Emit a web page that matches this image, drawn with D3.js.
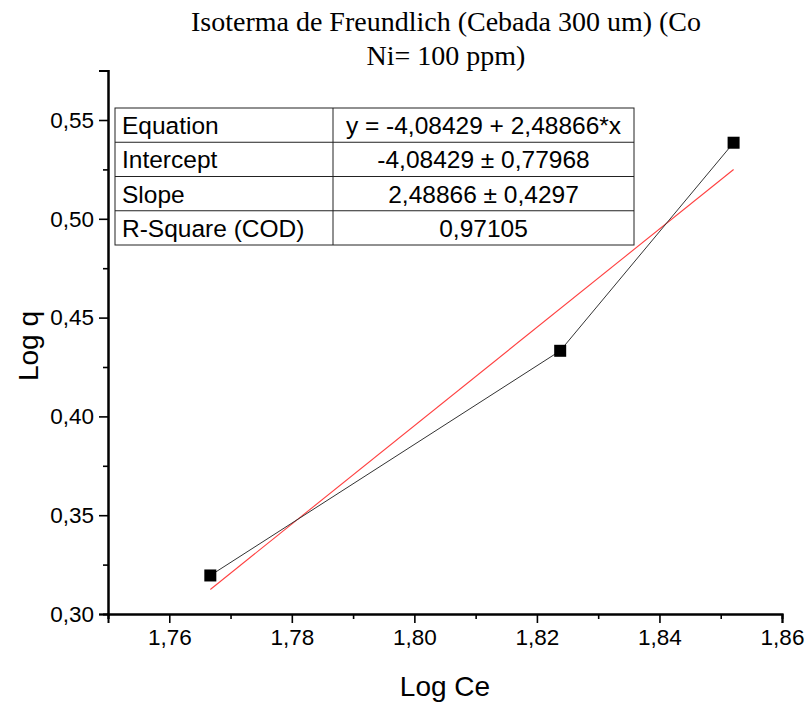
<!DOCTYPE html>
<html><head><meta charset="utf-8">
<script src="https://cdn.jsdelivr.net/npm/d3@7"></script>
<style>body{margin:0;background:#fff}svg{display:block}</style>
</head><body>
<svg id="c" width="808" height="703"></svg>
<script>
const logCe = [1.7667, 1.8238, 1.8521];
const logQ = [0.3195, 0.4332, 0.5385];
const fitIntercept = -4.08429, fitSlope = 2.48866;
const xTicks = [1.76, 1.78, 1.80, 1.82, 1.84, 1.86];
const yTicks = [0.30, 0.35, 0.40, 0.45, 0.50, 0.55];
const tableRows = [
  ["Equation", "y = -4,08429 + 2,48866*x"],
  ["Intercept", "-4,08429 \u00b1 0,77968"],
  ["Slope", "2,48866 \u00b1 0,4297"],
  ["R-Square (COD)", "0,97105"]
];
const titleLines = ["Isoterma de Freundlich (Cebada 300 um) (Co", "Ni= 100 ppm)"];

const svg = d3.select("#c");
const x = d3.scaleLinear().domain([1.75, 1.86]).range([108, 782]);
const y = d3.scaleLinear().domain([0.30, 0.575]).range([614, 70.6]);
const fmt = v => d3.format(".2f")(v).replace(".", ",");

// title
svg.selectAll("text.title").data(titleLines).join("text")
  .attr("x", 446).attr("y", (d,i)=>31 + i*34)
  .attr("text-anchor","middle")
  .style("font-family","'Liberation Serif','Times New Roman',serif")
  .style("font-size","28px").text(d=>d);

// axes
const xAxis = d3.axisBottom(x).tickValues(xTicks).tickFormat(fmt).tickSize(9).tickPadding(6);
const xMinor = d3.axisBottom(x).tickValues(d3.range(1.75, 1.8601, 0.01).filter(v=>!xTicks.some(t=>Math.abs(t-v)<1e-6))).tickSize(5).tickFormat("");
const yAxis = d3.axisLeft(y).tickValues(yTicks).tickFormat(fmt).tickSize(9).tickPadding(5);
const yMinor = d3.axisLeft(y).tickValues([0.325,0.375,0.425,0.475,0.525,0.575]).tickSize(5).tickFormat("");

function style(g){
  g.select(".domain").attr("stroke","#000").attr("stroke-width",2);
  g.selectAll(".tick line").attr("stroke","#000").attr("stroke-width",1.6);
  g.selectAll(".tick text").style("font-family","'Liberation Sans',Arial,sans-serif").style("font-size","22.5px").attr("fill","#000");
}
svg.append("g").attr("transform","translate(0,614)").call(xMinor).call(style);
svg.append("g").attr("transform","translate(0,614)").call(xAxis).call(style);
svg.append("g").attr("transform","translate(108,0)").call(yMinor).call(style);
svg.append("g").attr("transform","translate(108,0)").call(yAxis).call(style);

// axis labels
svg.append("text").attr("x",445).attr("y",696).attr("text-anchor","middle")
  .style("font-family","'Liberation Sans',Arial,sans-serif").style("font-size","28px").text("Log Ce");
svg.append("text").attr("transform","translate(38,346) rotate(-90)").attr("text-anchor","middle")
  .style("font-family","'Liberation Sans',Arial,sans-serif").style("font-size","28px").text("Log q");

// fit line
const fitX = [d3.min(logCe), d3.max(logCe)];
svg.append("line")
  .attr("x1", x(fitX[0])).attr("y1", y(fitIntercept + fitSlope*fitX[0]))
  .attr("x2", x(fitX[1])).attr("y2", y(fitIntercept + fitSlope*fitX[1]))
  .attr("stroke","#ff4040").attr("stroke-width",1.1);

// data line
const pts = logCe.map((v,i)=>[v, logQ[i]]);
svg.append("path").attr("d", d3.line().x(d=>x(d[0])).y(d=>y(d[1]))(pts))
  .attr("fill","none").attr("stroke","#333").attr("stroke-width",1);
svg.selectAll("rect.pt").data(pts).join("rect")
  .attr("x", d=>x(d[0])-6).attr("y", d=>y(d[1])-6).attr("width",12).attr("height",12).attr("fill","#000");

// table
const tx0 = 115, tx1 = 333, tx2 = 634, ty0 = 108, rh = 34.25;
const tg = svg.append("g");
tg.append("rect").attr("x",tx0).attr("y",ty0).attr("width",tx2-tx0).attr("height",rh*4)
  .attr("fill","#fff").attr("stroke","#222").attr("stroke-width",1);
tg.append("line").attr("x1",tx1).attr("x2",tx1).attr("y1",ty0).attr("y2",ty0+rh*4).attr("stroke","#222");
tableRows.forEach((r,i)=>{
  if(i>0) tg.append("line").attr("x1",tx0).attr("x2",tx2).attr("y1",ty0+rh*i).attr("y2",ty0+rh*i).attr("stroke","#222");
  tg.append("text").attr("x",tx0+7).attr("y",ty0+rh*i+26)
    .style("font-family","'Liberation Sans',Arial,sans-serif").style("font-size","24.5px").text(r[0]);
  tg.append("text").attr("x",(tx1+tx2)/2).attr("y",ty0+rh*i+26).attr("text-anchor","middle")
    .style("font-family","'Liberation Sans',Arial,sans-serif").style("font-size","24.5px").text(r[1]);
});
</script>
</body></html>
